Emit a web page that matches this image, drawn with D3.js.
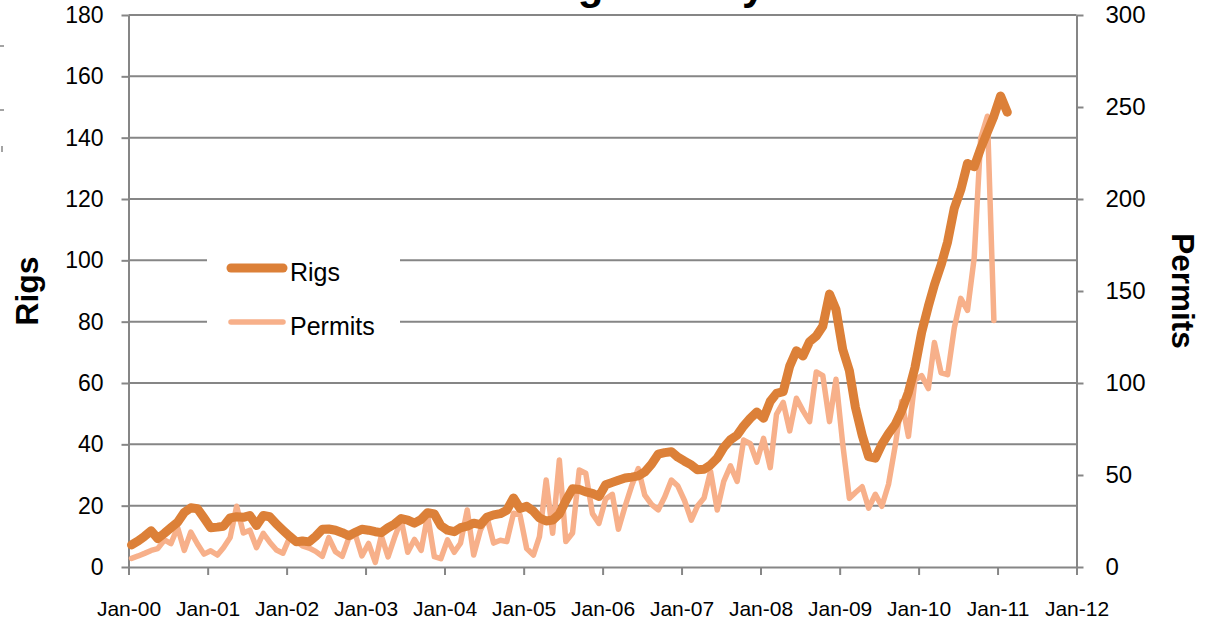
<!DOCTYPE html>
<html><head><meta charset="utf-8">
<script src="https://cdn.jsdelivr.net/npm/d3@7"></script>
<style>
body{margin:0;background:#fff;overflow:hidden;}
svg{display:block;}
text{font-family:"Liberation Sans", Arial, sans-serif;fill:#000;}
</style></head><body>
<svg id="chart" width="1212" height="624"></svg>
<script>
// ---- data (monthly, mid-month observations) ----
const firstMonth = "2000-01";
const rigs = [7.2, 8.5, 10, 11.8, 9.3, 11, 12.8, 14.6, 17.8, 19.3, 19, 16, 12.8, 13, 13.3, 16, 16.4, 16.2, 16.8, 13.5, 16.8, 16.4, 14, 12, 10, 8.2, 8.5, 8.2, 10, 12.3, 12.4, 12, 11.2, 10.2, 11.3, 12.3, 12, 11.5, 11.2, 12.8, 14, 15.8, 15.3, 14.3, 15.5, 17.7, 17.3, 13.5, 12, 11.5, 12.8, 13.3,
  14.3, 13.8, 16.2, 17, 17.4, 18.5, 22.5, 19.1, 19.8, 18.2, 16, 15, 15.3, 17.3, 21.6, 25.5, 25.3, 24.5, 24, 23, 26.8, 27.6, 28.3, 29, 29.3, 29.7, 31, 33.5, 36.8, 37.3, 37.6, 35.8,
  34.5, 33.3, 31.7, 31.9, 33.3, 35.5, 39, 41.5, 43, 46, 48.5, 50.5, 48.5, 54, 56.6, 57.2, 65.5, 70.5, 68.8, 73.5, 75.3, 78.5, 89, 84, 71, 64, 52, 43, 36, 35.5, 40, 43.5, 46.5, 51, 57, 65, 76.5, 85, 92, 98.5, 106, 117, 123, 131.6, 130.5, 136.5, 141.8, 147, 153.6, 148.3];
const permits = [4.7, 6, 7.4, 9, 10, 14.7, 12.7, 21.5, 9, 19, 12.5, 7, 8.8, 6.5, 10.5, 16, 33, 18.5, 20, 10.5, 18.3, 13.5, 9.2, 7.5, 16, 14, 11.5, 10.3, 8.5, 5.8, 16, 8.3, 5.8, 15.6, 17.5, 6, 12.8, 2.5, 17, 5.5, 16, 25.5, 8, 15, 9, 28, 5.6, 4.5, 14.7, 8, 12.9, 31,
  6.5, 20, 27.3, 13, 14.5, 13.8, 29.2, 28.3, 10, 6.5, 16.5, 47.3, 18.3, 58.2, 13.8, 18.5, 52.7, 51, 29, 23.7, 37, 39.5, 20.5, 33, 44, 53.5, 39, 34, 31, 38, 47.3, 44,
  36, 25.5, 33, 37.5, 52, 31, 46.5, 55, 46.5, 69, 67, 57, 69.9, 54, 83, 89.5, 74, 91.7, 85, 79, 106, 104, 79, 102, 67, 37.3, 40.5, 43.6, 32, 39.5, 33, 45, 66, 90, 71, 101.6, 104, 97, 122, 105.5, 104.5, 130, 146, 139.5, 168, 233, 245, 134];
const xTickYears = [2000, 2001, 2002, 2003, 2004, 2005, 2006, 2007, 2008, 2009, 2010, 2011, 2012];
const rigTicks = [0, 20, 40, 60, 80, 100, 120, 140, 160, 180];
const permitTicks = [0, 50, 100, 150, 200, 250, 300];
const seriesNames = ["Rigs", "Permits"];
const titleText = "Drilling Activity";

// ---- layout ----
const P = {left: 128.5, right: 1076.5, top: 15, bottom: 567};
const GRID = "#868686";
const C_RIGS = "#DC8038", C_PERM = "#F7B08A";

const svg = d3.select("#chart");
const t0 = d3.timeParse("%Y-%m")(firstMonth);
const dateAt = i => d3.timeDay.offset(d3.timeMonth.offset(t0, i), 14);

const x = d3.scaleTime().domain([new Date(2000,0,1), new Date(2012,0,1)]).range([P.left, P.right]);
const yL = d3.scaleLinear().domain([0,180]).range([P.bottom, P.top]);
const yR = d3.scaleLinear().domain([0,300]).range([P.bottom, P.top]);

// title (mostly cut off at top in the reference: only descenders show)
svg.append("text").attr("x", 612).attr("y", -1).attr("text-anchor","middle")
  .style("font-size","42px").style("font-weight","bold").text(titleText);

// remnants at the far left edge
const edge = svg.append("g").attr("stroke", GRID).attr("stroke-width", 1.5);
edge.append("line").attr("x1",0).attr("x2",4).attr("y1",46).attr("y2",46);
edge.append("line").attr("x1",0).attr("x2",4).attr("y1",110).attr("y2",110);
edge.append("line").attr("x1",2).attr("x2",2).attr("y1",146).attr("y2",152);

// gridlines
svg.append("g").selectAll("line").data(rigTicks.filter(d=>d>0)).join("line")
  .attr("x1", P.left).attr("x2", P.right).attr("y1", d=>yL(d)).attr("y2", d=>yL(d))
  .attr("stroke", GRID).attr("stroke-width", 2);

// axes
function styleAxis(g){
  g.selectAll(".domain").attr("stroke", GRID).attr("stroke-width", 2);
  g.selectAll(".tick line").attr("stroke", GRID).attr("stroke-width", 2);
  g.selectAll("text").style("font-family",'"Liberation Sans", Arial, sans-serif').attr("fill","#000");
}
const axL = svg.append("g").attr("transform", `translate(${P.left},0)`)
  .call(d3.axisLeft(yL).tickValues(rigTicks).tickSize(7).tickSizeOuter(0).tickPadding(18));
styleAxis(axL); axL.selectAll("text").style("font-size","23px");

const axR = svg.append("g").attr("transform", `translate(${P.right},0)`)
  .call(d3.axisRight(yR).tickValues(permitTicks).tickSize(7).tickSizeOuter(0).tickPadding(22));
styleAxis(axR); axR.selectAll("text").style("font-size","24px");

const axB = svg.append("g").attr("transform", `translate(0,${P.bottom})`)
  .call(d3.axisBottom(x).tickValues(xTickYears.map(y=>new Date(y,0,1)))
    .tickFormat(d3.timeFormat("%b-%y")).tickSize(8).tickSizeOuter(0).tickPadding(26));
styleAxis(axB); axB.selectAll("text").style("font-size","21px");

// axis titles
svg.append("text").attr("transform","translate(38,291) rotate(-90)").attr("text-anchor","middle")
  .style("font-size","32px").style("font-weight","bold").text("Rigs");
svg.append("text").attr("transform","translate(1172,291) rotate(90)").attr("text-anchor","middle")
  .style("font-size","31.5px").style("font-weight","bold").text("Permits");

// lines
const lineR = d3.line().x((d,i)=>x(dateAt(i))).y(d=>yL(d));
const lineP = d3.line().x((d,i)=>x(dateAt(i))).y(d=>yR(d));
svg.append("path").datum(permits).attr("d", lineP).attr("fill","none")
  .attr("stroke", C_PERM).attr("stroke-width", 5.5).attr("stroke-linejoin","round").attr("stroke-linecap","round");
svg.append("path").datum(rigs).attr("d", lineR).attr("fill","none")
  .attr("stroke", C_RIGS).attr("stroke-width", 9).attr("stroke-linejoin","round").attr("stroke-linecap","round");

// legend
const lg = svg.append("g");
lg.append("rect").attr("x", 207).attr("y", 244).attr("width", 193).attr("height", 102).attr("fill","#fff");
const items = [{name: seriesNames[0], color: C_RIGS, w: 9, y: 268}, {name: seriesNames[1], color: C_PERM, w: 5.5, y: 322}];
items.forEach(it=>{
  lg.append("line").attr("x1", 231).attr("x2", 283).attr("y1", it.y).attr("y2", it.y)
    .attr("stroke", it.color).attr("stroke-width", it.w).attr("stroke-linecap","round");
  lg.append("text").attr("x", 290).attr("y", it.y+4).attr("dominant-baseline","central")
    .style("font-size","25px").text(it.name);
});
</script>
</body></html>
